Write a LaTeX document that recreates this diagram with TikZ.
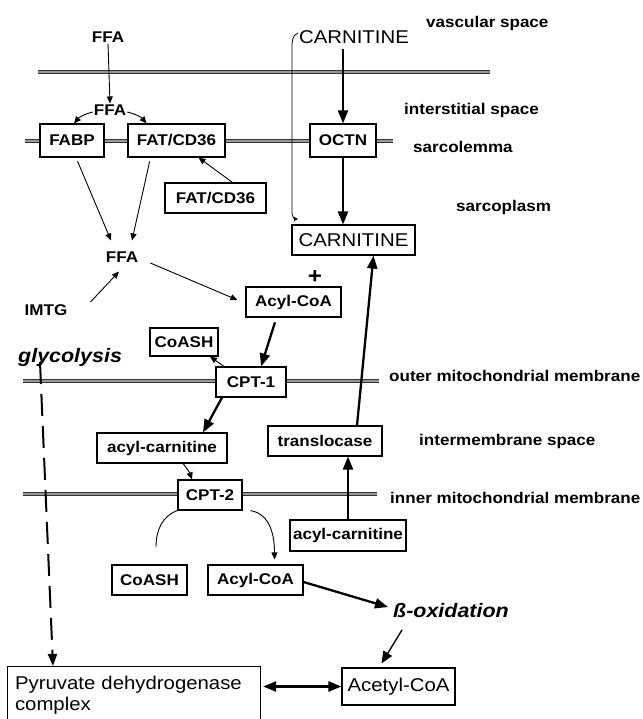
\documentclass[tikz,border=0pt]{standalone}
\usepackage{fontspec}
\setmainfont{Liberation Sans}[FakeStretch=1.1]
\usetikzlibrary{arrows.meta}
\begin{document}
\begin{tikzpicture}[x=1pt,y=-1pt,
  lab/.style={font=\bfseries\fontsize{15.5}{18}\selectfont, inner sep=1pt},
  big/.style={font=\fontsize{18.5}{21}\selectfont, inner sep=1pt},
  ital/.style={font=\bfseries\itshape\fontsize{19.5}{22}\selectfont, inner sep=0pt},
  box/.style={draw, line width=1.1pt, fill=white, inner sep=0pt, minimum height=30pt},
  mem/.style={draw=black!80, line width=1pt, double=black!40, double distance=2.2pt},
  thinarr/.style={line width=0.9pt, -{Triangle[length=7pt,width=6pt]}},
  thickarr/.style={line width=2.3pt, -{Triangle[length=13pt,width=10pt]}},
]
\useasboundingbox (0,0) rectangle (642,719);

% membranes
\draw[mem] (38,72) -- (490,72);
\draw[mem] (25,141) -- (393,141);
\draw[mem] (23,381) -- (379,381);
\draw[mem] (23,494) -- (377,494);

% right-hand labels
\node[lab, anchor=west] (lvasc) at (425,23) {vascular space};
\node[lab, anchor=west] (linter) at (403,110) {interstitial space};
\node[lab, anchor=west] (lsarcl) at (412,147) {sarcolemma};
\node[lab, anchor=west] (lsarcp) at (455,207) {sarcoplasm};
\node[lab, anchor=west] (louter) at (388,376) {outer mitochondrial membrane};
\node[lab, anchor=west] (linterm) at (418,441) {intermembrane space};
\node[lab, anchor=west] (linner) at (389,498) {inner mitochondrial membrane};

% free labels
\node[lab] (ffa1) at (108,37) {FFA};
\node[big] (carn1) at (354,37) {CARNITINE};
\node[lab] (ffa2) at (110,110) {FFA};
\node[lab] (ffa3) at (122,257) {FFA};
\node[lab] (imtg) at (46,310) {IMTG};
\node[font=\bfseries\fontsize{22}{24}\selectfont, inner sep=0pt] (plus) at (315,277) {+};
\node[ital, anchor=base west] (glyc) at (18,362) {glycolysis};
\node[ital, anchor=base west] (boxid) at (393,617) {ß-oxidation};

% boxes
\node[box, lab, minimum width=64pt, minimum height=33pt] (fabp) at (72,140.5) {FABP};
\node[box, lab, minimum width=97pt, minimum height=33pt] (fat) at (176.5,140.5) {FAT/CD36};
\node[box, lab, minimum width=66pt, minimum height=33pt] (octn) at (343,140.5) {OCTN};
\node[box, lab, minimum width=101pt] (fat2) at (215.5,198) {FAT/CD36};
\node[box, big, minimum width=123pt] (carn2) at (353.5,240) {CARNITINE};
\node[box, lab, minimum width=95pt] (acyl1) at (293.5,302) {Acyl-CoA};
\node[box, lab, minimum width=68pt, minimum height=28pt] (coash1) at (184,342) {CoASH};
\node[box, lab, minimum width=70pt] (cpt1) at (251,382) {CPT-1};
\node[box, lab, minimum width=130pt] (acylc1) at (162,448) {acyl-carnitine};
\node[box, lab, minimum width=114pt] (transloc) at (325,441) {translocase};
\node[box, lab, minimum width=64pt] (cpt2) at (210,495) {CPT-2};
\node[box, lab, minimum width=116pt, minimum height=31pt] (acylc2) at (348,535.5) {acyl-carnitine};
\node[box, lab, minimum width=75pt] (coash2) at (149.5,580) {CoASH};
\node[box, lab, minimum width=95pt] (acyl2) at (255.5,580) {Acyl-CoA};
\node[box, big, minimum width=113pt, minimum height=37pt] (acetyl) at (398.5,686.5) {Acetyl-CoA};
\node[box, big, anchor=north west, minimum width=253pt, minimum height=58pt,
      align=left, text width=238pt] (pdh) at (7,666) {Pyruvate dehydrogenase\\complex};

% connectors
\draw[thinarr] (ffa1.south) -- (ffa2.north);
\draw[thinarr] ([yshift=-2pt]ffa2.west) to[out=195,in=50] ([xshift=2pt]fabp.north);
\draw[thinarr] ([yshift=-2pt]ffa2.east) to[out=-15,in=130] ([xshift=-30pt]fat.north);
\draw[thickarr, shorten <=4pt] (octn.north |- carn1.south) -- (octn.north);
\draw[thickarr] (octn.south) -- (octn.south |- carn2.north);
\coordinate (cend) at (298,219);
\draw[line width=0.8pt, -{Triangle[length=4pt,width=4pt]}]
  ([yshift=4pt]carn1.west) to[out=200,in=90] (292,48) -- (292,213) to[out=-90,in=180] (cend);
\draw[thinarr, shorten <=4pt] ([xshift=4pt]fabp.south) -- ([xshift=-11pt,yshift=10pt]ffa3.north);
\draw[thinarr, shorten <=4pt] ([xshift=-26pt]fat.south) -- ([xshift=10pt,yshift=10pt]ffa3.north);
\draw[thinarr] ([xshift=17pt]fat2.north) -- ([xshift=22pt]fat.south);
\draw[thinarr] ([shift={(22pt,8pt)}]imtg.east) -- ([shift={(-3pt,-8pt)}]ffa3.south);
\draw[thinarr] ([shift={(11pt,-6pt)}]ffa3.east) -- ([shift={(-8pt,2pt)}]acyl1.west);
\draw[thickarr, shorten <=5pt] ([xshift=-17pt]acyl1.south) -- ([xshift=10pt]cpt1.north);
\draw[thinarr] ([xshift=-27pt]cpt1.north) -- ([xshift=26pt]coash1.south);
\draw[thickarr] ([xshift=-29pt]cpt1.south) -- ([xshift=41pt]acylc1.north);
\draw[thinarr] ([xshift=21pt]acylc1.south) to[bend left=10] ([xshift=-18pt]cpt2.north);
\draw[thickarr] (acylc2.north) -- (acylc2.north |- transloc.south);
\draw[thickarr] ([xshift=32pt]transloc.north) -- ([xshift=20pt]carn2.south);
\coordinate (cbend) at (156,547);
\draw[line width=0.9pt] (cpt2.south west) to[out=200,in=90] (cbend);
\draw[thinarr] ([xshift=8pt]cpt2.south east) to[out=-10,in=90] ([xshift=19pt,yshift=5pt]acyl2.north);
\draw[thickarr] ([yshift=-2pt]acyl2.east) -- ([shift={(-5pt,3pt)}]boxid.west);
\draw[line width=1.4pt, -{Triangle[length=12pt,width=10pt]}]
  ([shift={(-49pt,-13pt)}]boxid.base) -- ([xshift=-17pt,yshift=4pt]acetyl.north);
\draw[line width=2.3pt, {Triangle[length=13pt,width=10pt]}-{Triangle[length=13pt,width=10pt]}]
  ([xshift=2pt]acetyl.west -| pdh.east) -- (acetyl.west);
\coordinate (gstart) at (40,362);
\draw[line width=2pt, dash pattern=on 22pt off 10pt, -{Triangle[length=12pt,width=9pt]}]
  (gstart) -- ([xshift=46pt]pdh.north west);
\end{tikzpicture}
\end{document}
